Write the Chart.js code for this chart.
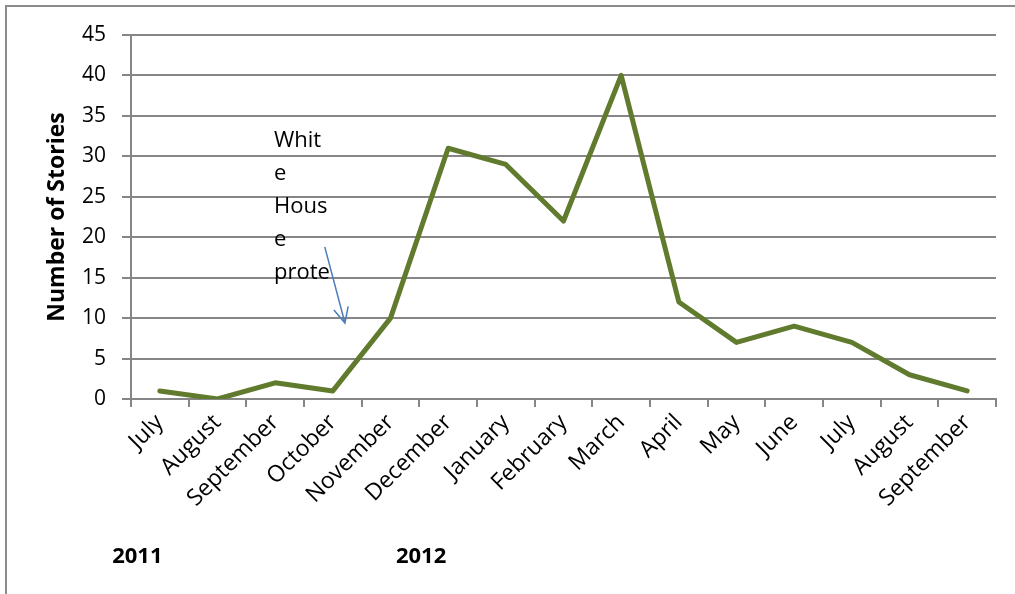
<!DOCTYPE html>
<html lang="en">
<head>
    <meta charset="UTF-8">
    <title>Number of Stories</title>
    <style>
        html, body {
            margin: 0;
            padding: 0;
            background: #ffffff;
        }
        .chart-container {
            position: relative;
            width: 1015px;
            height: 594px;
        }
    </style>
</head>
<body>
    <div class="chart-container">
        <canvas id="storiesChart" width="1015" height="594"></canvas>
    </div>

    <script src="https://cdn.jsdelivr.net/npm/chart.js"></script>
    <script>
        // data
        const months = ['July', 'August', 'September', 'October', 'November', 'December', 'January',
            'February', 'March', 'April', 'May', 'June', 'July', 'August', 'September'];
        const stories = [1, 0, 2, 1, 10, 31, 29, 22, 40, 12, 7, 9, 7, 3, 1];
        const yTicks = [0, 5, 10, 15, 20, 25, 30, 35, 40, 45];
        const yearLabels = ['2011', '2012'];
        const noteLines = ['Whit', 'e', 'Hous', 'e', 'prote'];

        const FONT = "'Open Sans', sans-serif";
        const GRID = '#868686';

        // frame, note, arrow and year labels
        const extras = {
            id: 'extras',
            afterDraw(chart) {
                const ctx = chart.ctx;
                const x = chart.scales.x;
                const y = chart.scales.y;
                ctx.save();

                // outer frame
                ctx.strokeStyle = '#8c8c8c';
                ctx.lineWidth = 2;
                ctx.strokeRect(6, 6, chart.width + 10, chart.height + 10);

                // text box (wrapped like the original)
                ctx.fillStyle = '#000000';
                ctx.font = '22px ' + FONT;
                ctx.textAlign = 'left';
                ctx.textBaseline = 'middle';
                const noteX = x.getPixelForValue(1.98);
                const noteY = y.getPixelForValue(31.9);
                noteLines.forEach((line, i) => {
                    ctx.fillText(line, noteX, noteY + i * 33);
                });

                // arrow
                const x1 = x.getPixelForValue(2.86), y1 = y.getPixelForValue(18.8);
                const x2 = x.getPixelForValue(3.21), y2 = y.getPixelForValue(9.4);
                ctx.strokeStyle = '#4a7ebb';
                ctx.lineWidth = 1.5;
                ctx.beginPath();
                ctx.moveTo(x1, y1);
                ctx.lineTo(x2, y2);
                const ang = Math.atan2(y2 - y1, x2 - x1);
                const head = 17;
                ctx.moveTo(x2 - head * Math.cos(ang - 0.45), y2 - head * Math.sin(ang - 0.45));
                ctx.lineTo(x2, y2);
                ctx.lineTo(x2 - head * Math.cos(ang + 0.45), y2 - head * Math.sin(ang + 0.45));
                ctx.stroke();

                // years under the axis
                ctx.fillStyle = '#000000';
                ctx.font = 'bold 22px ' + FONT;
                ctx.textAlign = 'center';
                const yearY = chart.chartArea.bottom + 158;
                ctx.fillText(yearLabels[0], x.getPixelForValue(-0.39), yearY);
                ctx.fillText(yearLabels[1], x.getPixelForValue(4.53), yearY);

                ctx.restore();
            }
        };

        function renderChart() {
            const ctx = document.getElementById('storiesChart').getContext('2d');

            new Chart(ctx, {
                type: 'line',
                data: {
                    labels: months,
                    datasets: [{
                        label: 'Number of Stories',
                        data: stories,
                        borderColor: '#607b2e',
                        borderWidth: 5,
                        pointRadius: 0,
                        tension: 0,
                        fill: false,
                        borderCapStyle: 'round',
                        borderJoinStyle: 'round'
                    }]
                },
                options: {
                    responsive: false,
                    animation: false,
                    layout: {
                        padding: { left: 0, right: 19, top: 35, bottom: 0 }
                    },
                    plugins: {
                        legend: { display: false },
                        tooltip: { enabled: false }
                    },
                    scales: {
                        x: {
                            offset: true,
                            afterFit(scale) { scale.height = 195; },
                            grid: {
                                display: true,
                                offset: true,
                                drawOnChartArea: false,
                                drawTicks: true,
                                tickLength: 8,
                                color: GRID,
                                lineWidth: 2
                            },
                            border: { color: GRID, width: 2 },
                            ticks: {
                                autoSkip: false,
                                maxRotation: 45,
                                minRotation: 45,
                                padding: 2,
                                color: '#000000',
                                font: { family: FONT, size: 23 }
                            }
                        },
                        y: {
                            min: 0,
                            max: 45,
                            afterFit(scale) { scale.width = 131; },
                            afterBuildTicks(scale) {
                                scale.ticks = yTicks.map(v => ({ value: v }));
                            },
                            grid: {
                                color: GRID,
                                lineWidth: 2,
                                tickLength: 9
                            },
                            border: { color: GRID, width: 2 },
                            ticks: {
                                padding: 16,
                                color: '#000000',
                                font: { family: FONT, size: 21 }
                            },
                            title: {
                                display: true,
                                text: 'Number of Stories',
                                color: '#000000',
                                font: { family: FONT, size: 23, weight: 'bold' },
                                padding: { top: 44, bottom: 0 }
                            }
                        }
                    }
                },
                plugins: [extras]
            });
        }

        window.onload = renderChart;
    </script>
</body>
</html>
